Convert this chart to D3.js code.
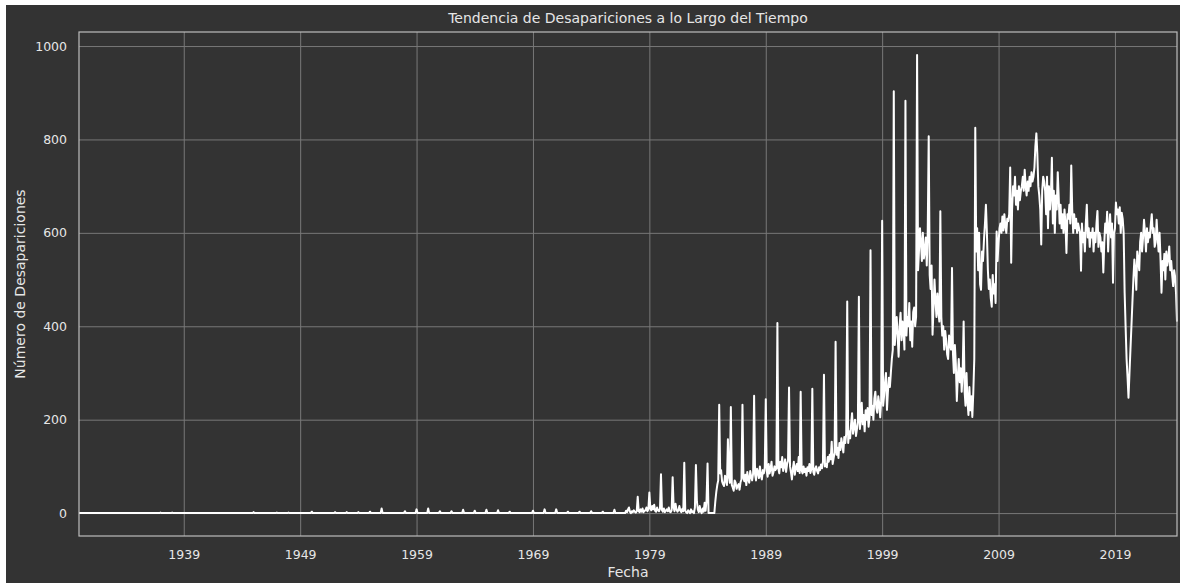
<!DOCTYPE html>
<html>
<head>
<meta charset="utf-8">
<script src="https://cdn.jsdelivr.net/npm/d3@7"></script>
<style>
  html, body { margin: 0; padding: 0; background: #fff; }
  svg { display: block; font-family: "DejaVu Sans", sans-serif; }
</style>
</head>
<body>
<svg id="chart"></svg>
<script>
// Early years: only January has a (tiny) count, the rest of the months are 0
const earlyYears  = [1937, 1938, 1945, 1947, 1948, 1950, 1952, 1953, 1954, 1955, 1956, 1958, 1959, 1960, 1961,
                     1962, 1963, 1964, 1965, 1966, 1967, 1969, 1970, 1971, 1972, 1973, 1974, 1975, 1976];
const earlyValues = [1, 1, 2, 1, 1, 3, 2, 2, 2, 3, 10, 4, 8, 10, 4,
                     4, 7, 5, 7, 6, 3, 5, 8, 8, 3, 3, 4, 3, 7];

// Monthly counts, one row per year (Jan..Dec)
const months1977to1989 = [
  [5, 2, 8, 12, 3, 0, 4, 2, 6, 3, 1, 4],
  [35, 4, 2, 8, 3, 10, 2, 5, 6, 12, 4, 8],
  [44, 10, 6, 15, 8, 18, 5, 3, 12, 6, 4, 9],
  [83, 6, 3, 10, 2, 5, 8, 4, 12, 3, 2, 6],
  [77, 12, 4, 20, 8, 3, 6, 15, 5, 2, 9, 4],
  [108, 5, 2, 0, 6, 3, 0, 8, 2, 4, 0, 12],
  [103, 25, 8, 2, 15, 4, 0, 10, 3, 22, 5, 28],
  [106, 0, 0, 0, 0, 0, 0, 0, 25, 45, 60, 70],
  [232, 85, 92, 68, 62, 58, 80, 70, 60, 158, 78, 65],
  [227, 60, 55, 48, 70, 65, 52, 58, 62, 50, 66, 72],
  [232, 75, 68, 82, 60, 88, 72, 65, 90, 78, 70, 85],
  [251, 82, 70, 95, 88, 75, 100, 80, 72, 92, 85, 98],
  [244, 90, 78, 105, 85, 95, 110, 80, 88, 100, 92, 96]
];
const months1990to1999 = [
  [407, 95, 85, 110, 98, 120, 90, 100, 115, 88, 105, 112],
  [269, 100, 88, 72, 95, 110, 82, 98, 105, 90, 120, 86],
  [260, 92, 85, 100, 88, 95, 80, 98, 90, 105, 86, 94],
  [266, 88, 82, 95, 100, 90, 85, 98, 92, 104, 96, 110],
  [296, 100, 105, 98, 120, 110, 125, 115, 153, 105, 118, 130],
  [367, 125, 140, 118, 150, 135, 160, 145, 130, 163, 150, 170],
  [453, 150, 175, 160, 190, 214, 170, 185, 200, 165, 180, 195],
  [463, 180, 200, 236, 190, 210, 175, 220, 200, 225, 185, 205],
  [563, 210, 230, 200, 245, 260, 225, 215, 250, 235, 205, 240],
  [626, 230, 250, 280, 300, 221, 260, 290, 270, 300, 330, 350]
];
const months2000to2009 = [
  [903, 360, 390, 420, 380, 335, 400, 429, 370, 410, 390, 350],
  [883, 380, 420, 400, 450, 370, 410, 356, 430, 440, 400, 420],
  [981, 520, 560, 610, 580, 540, 600, 545, 560, 590, 530, 600],
  [807, 510, 480, 530, 382, 440, 500, 455, 420, 470, 430, 410],
  [646, 420, 380, 400, 350, 390, 370, 340, 330, 380, 360, 350],
  [525, 340, 300, 360, 320, 240, 290, 330, 280, 310, 260, 300],
  [410, 260, 230, 300, 240, 210, 270, 220, 250, 206, 260, 330],
  [825, 560, 610, 520, 600, 490, 478, 560, 540, 585, 620, 660],
  [600, 520, 480, 500, 460, 442, 510, 470, 490, 450, 603, 540],
  [580, 610, 620, 600, 635, 605, 640, 615, 600, 630, 625, 640]
];
const months2010to2024 = [
  [740, 536, 650, 700, 680, 720, 660, 690, 650, 700, 670, 690],
  [700, 720, 690, 735, 700, 680, 710, 690, 720, 700, 730, 710],
  [720, 740, 785, 813, 770, 700, 680, 650, 575, 690, 720, 710],
  [690, 640, 720, 610, 700, 650, 680, 761, 620, 690, 600, 680],
  [650, 730, 680, 620, 660, 610, 640, 600, 650, 620, 557, 640],
  [630, 660, 620, 744, 650, 600, 640, 610, 630, 600, 620, 610],
  [600, 519, 620, 580, 600, 560, 620, 660, 590, 610, 570, 600],
  [590, 610, 560, 600, 580, 620, 647, 570, 600, 590, 560, 580],
  [515, 580, 620, 600, 645, 560, 610, 640, 590, 620, 493, 600],
  [610, 665, 640, 650, 620, 655, 600, 643, 630, 600, 472, 400],
  [330, 290, 247, 300, 350, 400, 450, 500, 543, 520, 478, 560],
  [540, 520, 580, 600, 560, 590, 628, 600, 560, 610, 580, 600],
  [590, 620, 640, 600, 610, 570, 580, 628, 590, 560, 600, 543],
  [472, 540, 520, 555, 500, 560, 530, 545, 571, 520, 540, 510],
  [486, 520, 507, 470, 410]
];

const xTickYears = [1939, 1949, 1959, 1969, 1979, 1989, 1999, 2009, 2019];
const yTicks = [0, 200, 400, 600, 800, 1000];

// Build the monthly series
const series = [];
for (let y = 1930; y <= 1976; y++) {
  const i = earlyYears.indexOf(y);
  for (let m = 0; m < 12; m++) {
    series.push({date: new Date(y, m, 1), value: (m === 0 && i >= 0) ? earlyValues[i] : 0});
  }
}
[[1977, months1977to1989], [1990, months1990to1999], [2000, months2000to2009], [2010, months2010to2024]]
  .forEach(([start, rows]) => {
    rows.forEach((row, k) => row.forEach((v, m) => {
      series.push({date: new Date(start + k, m, 1), value: v});
    }));
  });

// Dimensions
const width = 1180;
const height = 583;
const margin = {top: 32, right: 3, bottom: 47, left: 79};
const innerW = width - margin.left - margin.right;
const innerH = height - margin.top - margin.bottom;

const textColor = "#e6e6e6";
const gridColor = "#787878";
const spineColor = "#bdbdbd";

const svg = d3.select("#chart")
    .attr("width", width)
    .attr("height", height);

// Figure background (small white strip top/left like the original)
svg.append("rect")
    .attr("x", 6)
    .attr("y", 5)
    .attr("width", width - 6)
    .attr("height", height - 5)
    .attr("fill", "#333333");

const g = svg.append("g")
    .attr("transform", `translate(${margin.left},${margin.top})`);

// Scales
const x = d3.scaleTime()
    .domain(d3.extent(series, d => d.date))
    .range([0, innerW]);

const yMax = d3.max(series, d => d.value);
const pad = yMax * 0.05;  // matplotlib-like margins
const y = d3.scaleLinear()
    .domain([-pad, yMax + pad])
    .range([innerH, 0]);

// Grid lines
g.append("g")
    .attr("class", "grid")
    .call(d3.axisBottom(x)
        .tickValues(xTickYears.map(yr => new Date(yr, 0, 1)))
        .tickSize(innerH)
        .tickFormat(""))
    .call(s => s.select(".domain").remove())
    .selectAll("line")
    .attr("stroke", gridColor)
    .attr("stroke-width", 1);

g.append("g")
    .attr("class", "grid")
    .call(d3.axisLeft(y)
        .tickValues(yTicks)
        .tickSize(-innerW)
        .tickFormat(""))
    .call(s => s.select(".domain").remove())
    .selectAll("line")
    .attr("stroke", gridColor)
    .attr("stroke-width", 1);

// The line
const line = d3.line()
    .x(d => x(d.date))
    .y(d => y(d.value));

g.append("path")
    .datum(series)
    .attr("d", line)
    .attr("fill", "none")
    .attr("stroke", "#ffffff")
    .attr("stroke-width", 2)
    .attr("stroke-linejoin", "round");

// Axes (labels only)
const xAxis = g.append("g")
    .attr("transform", `translate(0,${innerH})`)
    .call(d3.axisBottom(x)
        .tickValues(xTickYears.map(yr => new Date(yr, 0, 1)))
        .tickSize(0)
        .tickPadding(14)
        .tickFormat(d3.timeFormat("%Y")));
xAxis.select(".domain").remove();
xAxis.selectAll("text")
    .attr("fill", textColor)
    .style("font-size", "12.5px")
    .style("font-family", "DejaVu Sans");

const yAxis = g.append("g")
    .call(d3.axisLeft(y)
        .tickValues(yTicks)
        .tickSize(0)
        .tickPadding(12)
        .tickFormat(d3.format("d")));
yAxis.select(".domain").remove();
yAxis.selectAll("text")
    .attr("fill", textColor)
    .style("font-size", "12.5px")
    .style("font-family", "DejaVu Sans");

// Spines
g.append("rect")
    .attr("width", innerW)
    .attr("height", innerH)
    .attr("fill", "none")
    .attr("stroke", spineColor)
    .attr("stroke-width", 1.2);

// Title and axis labels
svg.append("text")
    .attr("x", margin.left + innerW / 2)
    .attr("y", 23)
    .attr("text-anchor", "middle")
    .attr("fill", textColor)
    .style("font-size", "14px")
    .text("Tendencia de Desapariciones a lo Largo del Tiempo");

svg.append("text")
    .attr("x", margin.left + innerW / 2)
    .attr("y", 577)
    .attr("text-anchor", "middle")
    .attr("fill", textColor)
    .style("font-size", "14px")
    .text("Fecha");

svg.append("text")
    .attr("transform", `translate(25,${margin.top + innerH / 2}) rotate(-90)`)
    .attr("text-anchor", "middle")
    .attr("fill", textColor)
    .style("font-size", "14px")
    .text("Número de Desapariciones");
</script>
</body>
</html>
